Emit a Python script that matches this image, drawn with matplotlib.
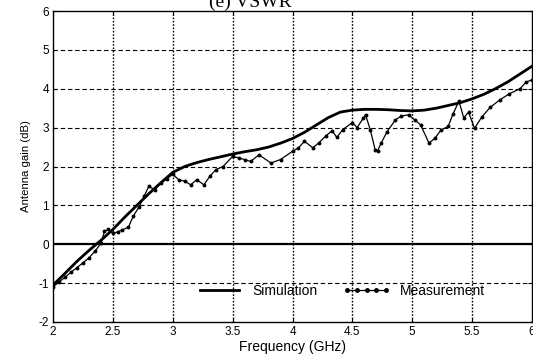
import matplotlib
matplotlib.use("Agg")
import matplotlib.pyplot as plt

sim_f = [2.0, 2.1, 2.2, 2.3, 2.4, 2.5, 2.6, 2.7, 2.8, 2.9, 3.0, 3.1, 3.2, 3.3, 3.4,
         3.5, 3.6, 3.7, 3.8, 3.9, 4.0, 4.1, 4.2, 4.3, 4.4, 4.5, 4.6, 4.7, 4.8, 4.9,
         5.0, 5.1, 5.2, 5.3, 5.4, 5.5, 5.6, 5.7, 5.8, 5.9, 6.0]
sim_g = [-1.05, -0.75, -0.44, -0.16, 0.10, 0.38, 0.70, 1.00, 1.30, 1.58, 1.85, 2.00,
         2.10, 2.18, 2.25, 2.32, 2.38, 2.43, 2.50, 2.60, 2.72, 2.88, 3.07, 3.26, 3.40,
         3.45, 3.47, 3.47, 3.46, 3.44, 3.43, 3.45, 3.50, 3.57, 3.64, 3.74, 3.86, 4.01,
         4.18, 4.38, 4.58]

meas_f = [2.00, 2.05, 2.10, 2.15, 2.20, 2.25, 2.30, 2.35, 2.40, 2.43, 2.46, 2.50, 2.54,
          2.58, 2.63, 2.67, 2.72, 2.76, 2.80, 2.85, 2.90, 2.95, 3.00, 3.05, 3.10, 3.15,
          3.20, 3.26, 3.31, 3.36, 3.42, 3.50, 3.55, 3.60, 3.65, 3.72, 3.82, 3.90, 4.00,
          4.05, 4.10, 4.17, 4.22, 4.28, 4.33, 4.37, 4.42, 4.50, 4.54, 4.59, 4.61, 4.65,
          4.69, 4.71, 4.74, 4.79, 4.86, 4.91, 4.97, 5.02, 5.07, 5.14, 5.19, 5.24, 5.30,
          5.34, 5.39, 5.43, 5.47, 5.52, 5.58, 5.65, 5.73, 5.81, 5.90, 5.95, 6.00]
meas_g = [-1.10, -0.97, -0.85, -0.72, -0.60, -0.48, -0.35, -0.18, 0.02, 0.33, 0.38, 0.28, 0.32,
          0.37, 0.44, 0.72, 0.97, 1.23, 1.49, 1.40, 1.58, 1.68, 1.80, 1.66, 1.62, 1.53,
          1.66, 1.53, 1.75, 1.92, 2.00, 2.26, 2.22, 2.18, 2.13, 2.30, 2.09, 2.18, 2.39,
          2.48, 2.65, 2.48, 2.61, 2.79, 2.92, 2.75, 2.95, 3.13, 3.00, 3.24, 3.33, 2.94,
          2.43, 2.40, 2.60, 2.90, 3.20, 3.30, 3.33, 3.20, 3.07, 2.60, 2.73, 2.94, 3.03,
          3.35, 3.68, 3.25, 3.40, 2.98, 3.27, 3.52, 3.71, 3.87, 4.00, 4.17, 4.23]

x_ticks = [2, 2.5, 3, 3.5, 4, 4.5, 5, 5.5, 6]
x_labels = ["2", "2.5", "3", "3.5", "4", "4.5", "5", "5.5", "6"]
y_ticks = [-2, -1, 0, 1, 2, 3, 4, 5, 6]
y_labels = ["-2", "-1", "0", "1", "2", "3", "4", "5", "6"]

plt.rcParams['font.family'] = ['Liberation Sans', 'DejaVu Sans']

fig = plt.figure(figsize=(5.33, 3.58), dpi=100)
ax = fig.add_axes([53/533, 36/358, 479/533, 311/358])

ax.set_xlim(2, 6)
ax.set_ylim(-2, 6)

for xv in x_ticks[1:-1]:
    ax.axvline(xv, color='black', lw=1.0, ls=(0, (1.2, 1.2)), zorder=1)
for yv in y_ticks[1:-1]:
    if yv != 0:
        ax.axhline(yv, color='black', lw=0.8, ls=(0, (4, 2.5)), zorder=1)
ax.axhline(0, color='black', lw=1.6, zorder=2)

ax.plot(sim_f, sim_g, color='black', lw=2.0, label='Simulation', zorder=4,
        solid_joinstyle='round')
ax.plot(meas_f, meas_g, color='black', lw=0.9, marker='o', ms=1.8,
        label='Measurement', zorder=3)

ax.set_xticks(x_ticks)
ax.set_xticklabels(x_labels)
ax.set_yticks(y_ticks)
ax.set_yticklabels(y_labels)
ax.tick_params(direction='in', length=3, labelsize=8.5, top=True, right=True, pad=3)
for s in ax.spines.values():
    s.set_linewidth(1.0)

ax.set_xlabel('Frequency (GHz)', fontsize=10, labelpad=1)
ax.set_ylabel('Antenna gain (dB)', fontsize=8.2, labelpad=5)

leg = ax.legend(loc='center', bbox_to_anchor=(0.6, 0.10), ncol=2, frameon=False,
                fontsize=10, handlelength=3.4, columnspacing=1.8, handletextpad=0.7,
                numpoints=5)
leg.get_lines()[1].set_markersize(2.5)

fig.text(0.469, 0.980, '(e) VSWR', fontsize=14, family=['Liberation Serif'],
         ha='center', va='baseline')

fig.savefig('out.png', dpi=100)
